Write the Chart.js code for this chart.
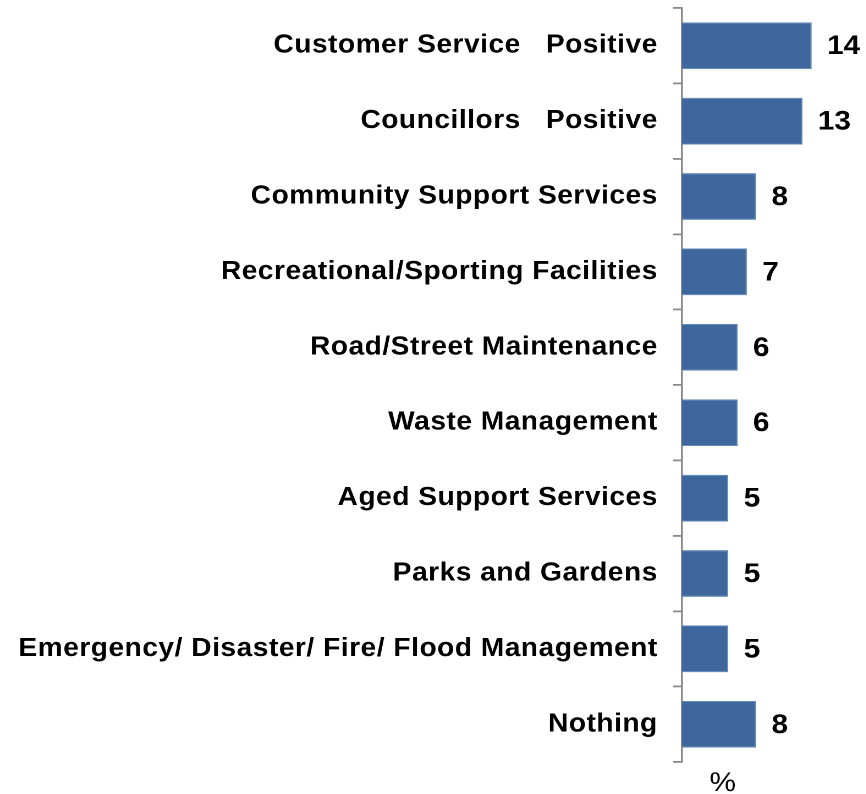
<!DOCTYPE html>
<html>
<head>
<meta charset="utf-8">
<script src="https://cdn.jsdelivr.net/npm/chart.js@4/dist/chart.umd.min.js"></script>
<style>
  html, body { margin: 0; padding: 0; background: #fff; overflow: hidden; }
  /* the chart is laid out narrower and widened to 866px, which gives the broad lettering */
  #wrap { width: 787px; height: 794px; position: relative; transform: scaleX(1.1); transform-origin: 0 0; }
</style>
</head>
<body>
<div id="wrap"><canvas id="mentionsChart"></canvas></div>
<script>
const categories = [
  'Customer Service   Positive',
  'Councillors   Positive',
  'Community Support Services',
  'Recreational/Sporting Facilities',
  'Road/Street Maintenance',
  'Waste Management',
  'Aged Support Services',
  'Parks and Gardens',
  'Emergency/ Disaster/ Fire/ Flood Management',
  'Nothing'
]
const percentages = [14, 13, 8, 7, 6, 6, 5, 5, 5, 8]
const unitLabel = '%'

const barBlue = '#3e689d'
const axisGrey = '#8a8a8a'
const fontFamily = '"Liberation Sans", Arial, sans-serif'
const labelSpacing = '0.5px'

// category names get a touch of extra tracking
const wideLabels = {
  id: 'wideLabels',
  beforeDraw(chart) {
    chart.ctx.letterSpacing = labelSpacing
  },
  beforeDatasetsDraw(chart) {
    chart.ctx.letterSpacing = '0px'
  }
}

// value at the end of each bar, plus the unit under the axis
const barValues = {
  id: 'barValues',
  afterDatasetsDraw(chart) {
    const ctx = chart.ctx
    const meta = chart.getDatasetMeta(0)
    ctx.save()
    ctx.letterSpacing = '0px'
    ctx.fillStyle = '#000'
    ctx.font = `bold 27px ${fontFamily}`
    ctx.textAlign = 'left'
    ctx.textBaseline = 'middle'
    meta.data.forEach((bar, i) => {
      ctx.fillText(String(percentages[i]), bar.x + 14, bar.y + 1)
    })
    ctx.font = `27px ${fontFamily}`
    ctx.textAlign = 'center'
    ctx.textBaseline = 'alphabetic'
    ctx.fillText(unitLabel, chart.chartArea.left + 37, chart.chartArea.bottom + 29)
    ctx.restore()
  }
}

new Chart(document.getElementById('mentionsChart'), {
  type: 'bar',
  data: {
    labels: categories,
    datasets: [{
      data: percentages,
      backgroundColor: barBlue,
      borderColor: '#5b83b5',
      borderWidth: 1,
      barPercentage: 0.62,
      categoryPercentage: 1
    }]
  },
  options: {
    indexAxis: 'y',
    responsive: true,
    maintainAspectRatio: false,
    animation: false,
    devicePixelRatio: 2,
    layout: {
      padding: { top: 8, right: 7, bottom: 32, left: 0 }
    },
    plugins: {
      legend: { display: false },
      tooltip: { enabled: false }
    },
    scales: {
      x: {
        display: false,
        min: 0,
        max: 19
      },
      y: {
        afterFit(scale) {
          scale.width = 620
          scale.paddingTop = 0
          scale.paddingBottom = 0
        },
        grid: {
          offset: true,
          drawOnChartArea: false,
          drawTicks: true,
          tickLength: 8,
          color: axisGrey,
          lineWidth: 1.8
        },
        border: { display: true, color: axisGrey, width: 1.8 },
        ticks: {
          color: '#000',
          padding: 14,
          font: { family: fontFamily, size: 25.5, weight: 'bold' }
        }
      }
    }
  },
  plugins: [wideLabels, barValues]
})
</script>
</body>
</html>
